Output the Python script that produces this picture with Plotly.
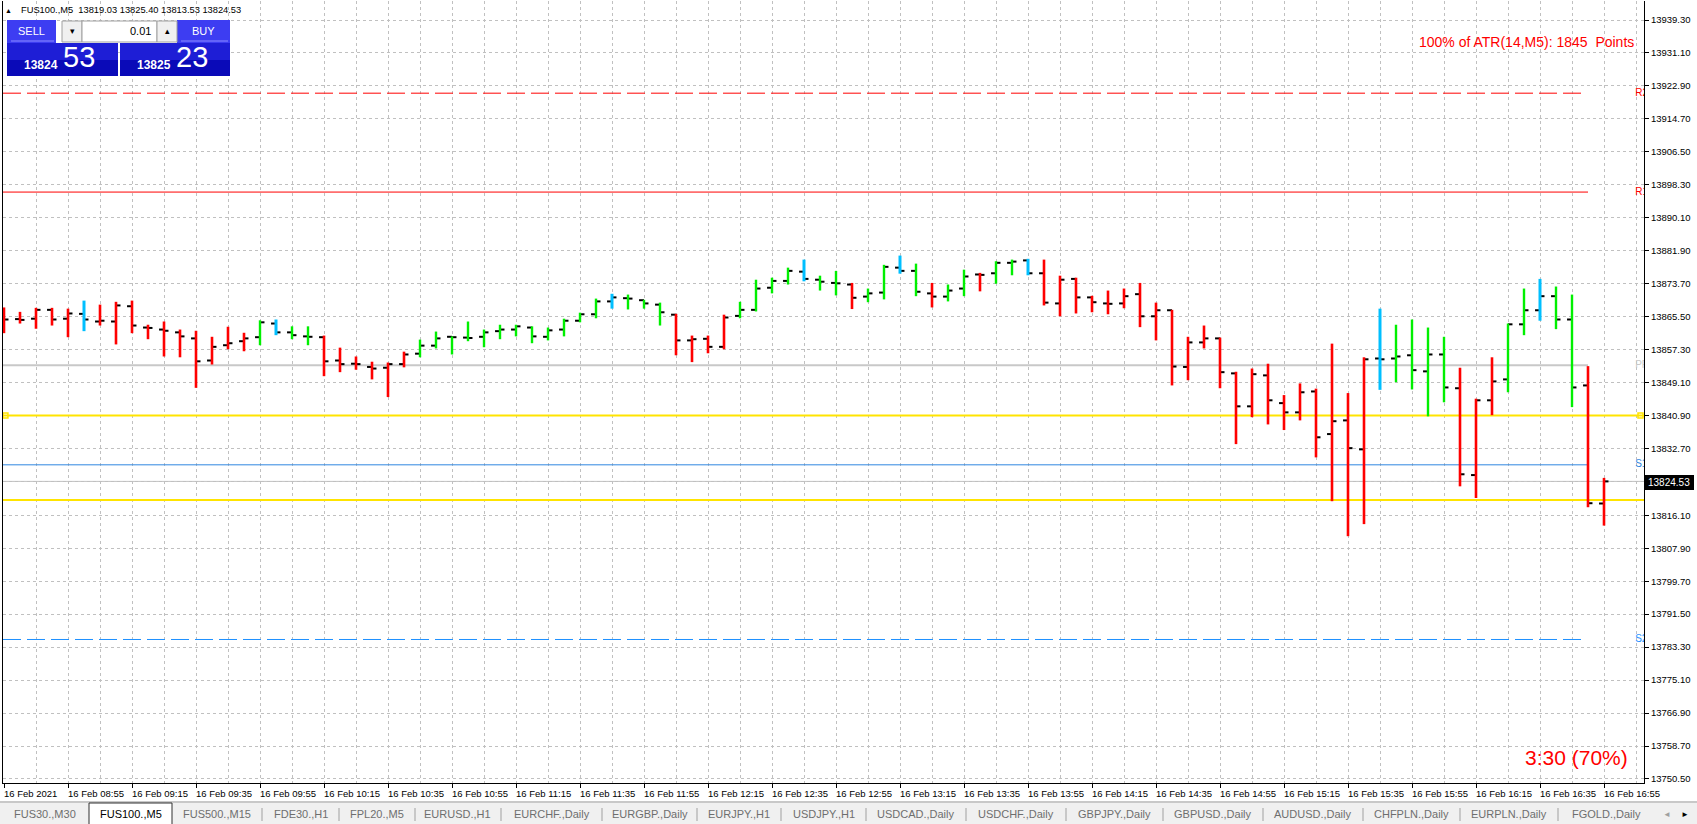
import plotly.graph_objects as go

# === Data (FUS100., M5, 16 Feb 2021 08:35 -> 16:55) ===
opens = [13866.0, 13864.9, 13865.0, 13867.2, 13865.0, 13866.2, 13864.3, 13864.3, 13868.1, 13862.8,
         13862.3, 13861.6, 13860.1, 13854.6, 13858.4, 13859.4, 13860.4, 13863.8, 13861.6, 13860.6,
         13860.4, 13854.6, 13853.8, 13853.0, 13852.8, 13853.7, 13856.3, 13858.3, 13860.5, 13860.3,
         13860.5, 13861.9, 13862.3, 13862.8, 13860.5, 13862.3, 13864.5, 13866.1, 13869.3, 13870.1,
         13869.6, 13868.5, 13866.0, 13859.6, 13860.0, 13858.0, 13865.7, 13867.2, 13872.7, 13874.4,
         13876.7, 13874.7, 13873.9, 13873.5, 13870.5, 13871.5, 13877.7, 13876.9, 13871.3, 13870.5,
         13872.5, 13876.0, 13876.3, 13878.9, 13879.5, 13876.3, 13868.8, 13874.9, 13870.3, 13868.8,
         13868.8, 13871.1, 13865.6, 13867.1, 13853.0, 13859.1, 13860.1, 13851.4, 13843.2, 13850.9,
         13844.0, 13841.7, 13846.9, 13836.3, 13839.7, 13832.5, 13855.1, 13855.1, 13855.9, 13851.9,
         13856.1, 13847.7, 13826.1, 13844.7, 13849.9, 13863.6, 13867.1, 13870.6, 13864.8, 13848.4,
         13819.03]
highs = [13867.8, 13866.7, 13867.7, 13867.7, 13867.5, 13869.5, 13868.5, 13869.2, 13869.5, 13863.5,
         13864.3, 13862.3, 13862.0, 13860.5, 13863.0, 13861.5, 13864.6, 13864.8, 13863.1, 13863.1,
         13860.8, 13857.8, 13855.6, 13854.3, 13854.1, 13856.8, 13859.8, 13861.8, 13860.6, 13864.3,
         13862.3, 13863.5, 13863.5, 13863.1, 13862.8, 13865.0, 13866.5, 13870.0, 13871.2, 13871.0,
         13869.7, 13869.0, 13866.2, 13860.8, 13860.8, 13866.0, 13869.2, 13874.7, 13875.2, 13877.7,
         13879.7, 13875.7, 13876.9, 13873.9, 13872.5, 13878.4, 13880.7, 13878.7, 13873.9, 13873.5,
         13877.2, 13876.4, 13879.3, 13879.7, 13879.9, 13879.7, 13875.7, 13875.2, 13870.7, 13872.0,
         13872.5, 13873.9, 13869.0, 13867.2, 13860.5, 13863.3, 13860.3, 13851.8, 13852.6, 13853.8,
         13846.0, 13848.9, 13847.6, 13858.8, 13846.5, 13855.4, 13867.5, 13863.5, 13864.8, 13862.8,
         13860.5, 13852.8, 13845.1, 13855.4, 13863.8, 13872.5, 13874.9, 13873.0, 13871.0, 13853.2,
         13825.40]
lows = [13861.4, 13863.8, 13862.5, 13863.3, 13860.4, 13861.9, 13863.3, 13858.6, 13861.4, 13859.9,
        13855.6, 13855.4, 13847.8, 13853.6, 13857.4, 13856.9, 13858.4, 13860.9, 13859.9, 13858.4,
        13850.7, 13851.7, 13852.3, 13849.9, 13845.5, 13852.9, 13855.4, 13857.6, 13856.1, 13859.4,
        13857.9, 13859.9, 13860.6, 13858.9, 13859.6, 13860.6, 13864.1, 13865.1, 13867.5, 13867.3,
        13867.5, 13863.3, 13855.9, 13854.2, 13856.4, 13857.4, 13865.1, 13866.8, 13871.3, 13873.5,
        13874.3, 13872.0, 13870.8, 13867.4, 13869.1, 13869.8, 13876.2, 13870.6, 13867.8, 13869.3,
        13870.6, 13871.8, 13873.7, 13875.8, 13875.8, 13868.3, 13865.6, 13866.3, 13866.6, 13866.1,
        13867.6, 13862.9, 13859.6, 13848.4, 13849.7, 13857.6, 13847.7, 13833.8, 13840.5, 13838.7,
        13837.3, 13839.7, 13830.5, 13819.6, 13810.9, 13813.9, 13847.3, 13849.2, 13847.4, 13840.7,
        13844.2, 13823.3, 13820.4, 13841.0, 13846.7, 13860.9, 13864.5, 13862.4, 13843.0, 13818.1,
        13813.53]
closes = [13864.8, 13864.7, 13867.2, 13864.8, 13866.3, 13864.8, 13864.5, 13868.3, 13863.3, 13862.7,
          13862.0, 13860.6, 13854.4, 13858.0, 13858.9, 13860.1, 13864.1, 13861.6, 13860.9, 13860.5,
          13854.4, 13853.7, 13853.7, 13852.6, 13853.7, 13856.1, 13858.3, 13860.1, 13860.4, 13860.2,
          13861.6, 13862.3, 13863.1, 13860.6, 13862.1, 13864.5, 13866.1, 13869.3, 13870.3, 13870.0,
          13868.8, 13866.6, 13859.6, 13859.9, 13858.0, 13865.3, 13867.2, 13872.5, 13874.4, 13876.9,
          13874.9, 13874.2, 13873.8, 13870.2, 13871.3, 13877.9, 13876.9, 13871.7, 13870.5, 13872.0,
          13875.5, 13875.9, 13878.9, 13879.2, 13876.3, 13869.0, 13874.7, 13870.3, 13869.1, 13868.7,
          13870.6, 13865.6, 13867.1, 13853.1, 13859.1, 13860.1, 13851.7, 13843.2, 13851.2, 13844.7,
          13841.7, 13846.7, 13835.5, 13839.5, 13832.8, 13854.9, 13854.9, 13855.6, 13852.2, 13856.1,
          13847.9, 13826.3, 13844.7, 13849.4, 13863.6, 13867.1, 13870.6, 13864.8, 13847.9, 13819.1,
          13824.53]
# bar colour from the trend indicator: R red, G green, B blue
trend = list("RRRRRB" + "RRRRRRRRRR" + "G" + "B" + "GG" + "RRRRRR" + "GGGGGGGGGGGG" + "B" + "GGG"
             + "RRRR" + "GGGG" + "B" + "GG" + "R" + "GG" + "B" + "G" + "R" + "GG" + "R" + "GG" + "B"
             + "RRRRRRRRRRRRRRRRRRRRR" + "B" + "GGGG" + "RRR" + "GG" + "B" + "GG" + "RR")

x_labels = ["16 Feb 2021", "16 Feb 08:55", "16 Feb 09:15", "16 Feb 09:35", "16 Feb 09:55",
            "16 Feb 10:15", "16 Feb 10:35", "16 Feb 10:55", "16 Feb 11:15", "16 Feb 11:35",
            "16 Feb 11:55", "16 Feb 12:15", "16 Feb 12:35", "16 Feb 12:55", "16 Feb 13:15",
            "16 Feb 13:35", "16 Feb 13:55", "16 Feb 14:15", "16 Feb 14:35", "16 Feb 14:55",
            "16 Feb 15:15", "16 Feb 15:35", "16 Feb 15:55", "16 Feb 16:15", "16 Feb 16:35",
            "16 Feb 16:55"]
y_labels = ["13939.30", "13931.10", "13922.90", "13914.70", "13906.50", "13898.30", "13890.10",
            "13881.90", "13873.70", "13865.50", "13857.30", "13849.10", "13840.90", "13832.70",
            "13824.50", "13816.10", "13807.90", "13799.70", "13791.50", "13783.30", "13775.10",
            "13766.90", "13758.70", "13750.50"]

# pivot levels
level_names = ["R2", "R1", "PP", "S1", "S2"]
level_prices = [13921.1, 13896.5, 13853.4, 13828.65, 13785.2]
zone_prices = [13840.9, 13819.9]   # yellow lines
symbol = "FUS100.,M5"
atr_text = "100% of ATR(14,M5): 1845  Points"
timer_text = "3:30 (70%)"
tabs = ["FUS30.,M30", "FUS100.,M5", "FUS500.,M15", "FDE30.,H1", "FPL20.,M5", "EURUSD.,H1",
        "EURCHF.,Daily", "EURGBP.,Daily", "EURJPY.,H1", "USDJPY.,H1", "USDCAD.,Daily",
        "USDCHF.,Daily", "GBPJPY.,Daily", "GBPUSD.,Daily", "AUDUSD.,Daily", "CHFPLN.,Daily",
        "EURPLN.,Daily", "FGOLD.,Daily"]
tab_edges = [0, 89, 172, 262, 339, 415, 501, 602, 697, 781, 866, 966, 1066, 1163, 1263, 1363,
             1460, 1558, 1655]

# === Geometry ===
W, H = 1697, 824
PL, PR, PT, PB = 3, 1644, 1, 783
FONT = "Liberation Sans"
n = len(closes)
last = closes[-1]
x_min, x_max = -0.0625, 102.5
y_min, y_max = 13749.5, 13944.03


def fx(x):
    return (x - PL) / (PR - PL)


def fy(y):
    return (PB - y) / (PB - PT)


shapes = []
annotations = []


def box(x0, y0, x1, y1, fill, line=None, layer="above"):
    shapes.append(dict(type="rect", xref="paper", yref="paper", x0=fx(x0), x1=fx(x1),
                       y0=fy(y1), y1=fy(y0), fillcolor=fill, layer=layer,
                       line=dict(width=0) if line is None else dict(color=line, width=1)))


def seg(x0, y0, x1, y1, color, width=1):
    shapes.append(dict(type="line", xref="paper", yref="paper", x0=fx(x0), x1=fx(x1),
                       y0=fy(y0), y1=fy(y1), line=dict(color=color, width=width), layer="above"))


def text(x, y, s, size, color, anchor="center", bold=False):
    annotations.append(dict(xref="paper", yref="paper", x=fx(x), y=fy(y), text=f"<b>{s}</b>" if bold else s,
                            showarrow=False, xanchor=anchor, yanchor="middle",
                            font=dict(size=size, color=color, family=FONT)))


fig = go.Figure()

# === Pivot / zone lines ===
level_colors = ["#FF0000", "#FF0000", "#C8C8C8", "#2F86E0", "#1E90FF"]
level_dash = ["18px,6px", "solid", "solid", "solid", "18px,6px"]
level_width = [1, 1, 2, 1, 1]
level_end = [98.6, 99.0, 99.0, 99.0, 98.6]
for p, c, d, w, e in zip(level_prices, level_colors, level_dash, level_width, level_end):
    shapes.append(dict(type="line", xref="x", yref="y", x0=x_min, x1=e, y0=p, y1=p,
                       line=dict(color=c, width=w, dash=d), layer="between"))
fig.add_trace(go.Scatter(x=[101.95] * len(level_names), y=level_prices, mode="text",
                         text=level_names, textposition="middle right", cliponaxis=True,
                         textfont=dict(size=10, color=level_colors, family=FONT),
                         showlegend=False, hoverinfo="skip"))

for p in zone_prices:
    shapes.append(dict(type="line", xref="x", yref="y", x0=x_min, x1=x_max, y0=p, y1=p,
                       line=dict(color="#FFE400", width=2), layer="between"))
fig.add_trace(go.Scatter(x=[0.09, 102.28], y=[zone_prices[0]] * 2, mode="markers",
                         marker=dict(symbol="square-open", size=5, color="#FFE400",
                                     line=dict(width=1.5, color="#FFE400")),
                         cliponaxis=False, showlegend=False, hoverinfo="skip"))

# current price line
shapes.append(dict(type="line", xref="x", yref="y", x0=x_min, x1=x_max, y0=last, y1=last,
                   line=dict(color="#C0C0C0", width=1), layer="between"))

# === OHLC bars ===
tx, ty = [], []
for i in range(n):
    tx += [i - 0.31, i, None, i, i + 0.28, None]
    ty += [opens[i], opens[i], None, closes[i], closes[i], None]
fig.add_trace(go.Scatter(x=tx, y=ty, mode="lines", line=dict(color="black", width=2),
                         showlegend=False, hoverinfo="skip"))

bar_colors = {"R": "#FF0000", "G": "#00F000", "B": "#00BFFF"}
bar_width = {"R": 2.6, "G": 2.4, "B": 3}
for k, col in bar_colors.items():
    bx, by = [], []
    for i in range(n):
        if trend[i] == k:
            bx += [i, i, None]
            by += [lows[i], highs[i], None]
    fig.add_trace(go.Scatter(x=bx, y=by, mode="lines", line=dict(color=col, width=bar_width[k]),
                             showlegend=False, hoverinfo="skip"))

# === Axis labels (x labels left aligned on their tick) ===
label_bars = list(range(0, n, 4))
for b, s in zip(label_bars, x_labels):
    annotations.append(dict(xref="x", yref="paper", x=b, y=0, yshift=-3, text=s, showarrow=False,
                            xanchor="left", yanchor="top", xshift=-2,
                            font=dict(size=9.5, color="black", family=FONT)))

y_vals = [float(v) for v in y_labels]
y_text = ["" if abs(v - last) < 2 else s for v, s in zip(y_vals, y_labels)]

# current price box on the axis
box(1645, 475, 1694, 490, "black")
text(1669.5, 482.5, f"{last:.2f}", 10, "white")

# === Chart texts ===
text(1636, 42, atr_text, 14, "#FF0000", anchor="right")
text(1630, 757, timer_text, 21, "#FF0000", anchor="right")
text(8, 10, "▲", 7, "black")
text(19, 10, f"{symbol}  {opens[-1]:.2f} {highs[-1]:.2f} {lows[-1]:.2f} {closes[-1]:.2f}", 9.3,
     "black", anchor="left")

# === One-click trading panel ===
sell_txt, buy_txt = "13824", "13825"
sell_pips, buy_pips = "53", "23"
box(7, 20, 56, 43, "#3D3DF2")
box(177, 20, 230, 43, "#3D3DF2")
seg(11, 41, 54, 41, "#8C8CFF")
seg(181, 41, 228, 41, "#8C8CFF")
box(62, 21, 82, 42, "#F0F0F0", line="#A0A0A0")
box(82, 21, 157, 42, "white", line="#A0A0A0")
box(157, 21, 177, 42, "#F0F0F0", line="#A0A0A0")
box(7, 43, 118, 60, "#1E1ED6")
box(7, 60, 118, 76, "#0A0AB8")
box(120, 43, 230, 60, "#1E1ED6")
box(120, 60, 230, 76, "#0A0AB8")
text(31, 31, "SELL", 11, "white")
text(203, 31, "BUY", 11, "white")
text(72, 31, "▾", 9, "black")
text(167, 31, "▴", 9, "black")
text(153, 31, "0.01", 11, "black", anchor="right")
text(41, 65, sell_txt, 12, "white", bold=True)
text(79, 57, sell_pips, 29, "white")
text(154, 65, buy_txt, 12, "white", bold=True)
text(192, 57, buy_pips, 29, "white")

# === Tab bar ===
box(0, 801, W, H, "#F0F0F0")
seg(0, 802, W, 802, "#A0A0A0")
for j, name in enumerate(tabs):
    a, b = tab_edges[j], tab_edges[j + 1]
    if name == symbol:
        box(a, 803, b, H + 1, "white", line="#303030")
        text((a + b) / 2, 814, name, 11, "black")
    else:
        text((a + b) / 2, 814, name, 11, "#6E6E6E")
        if j + 1 < len(tabs) and tabs[j + 1] != symbol:
            seg(b, 808, b, 821, "#A0A0A0")
text(1667, 814, "◄", 8, "#A0A0A0")
text(1685, 814, "►", 8, "black")

fig.update_layout(
    width=W, height=H,
    margin=dict(l=PL, r=W - PR, t=PT, b=H - PB, autoexpand=False),
    plot_bgcolor="white", paper_bgcolor="white",
    showlegend=False, hovermode=False,
    shapes=shapes, annotations=annotations,
    font=dict(family=FONT, color="black"),
    xaxis=dict(range=[x_min, x_max], tickmode="array", tickvals=label_bars, showticklabels=False,
               ticks="outside", ticklen=4, tickcolor="black", showgrid=True, gridcolor="#C0C0C0",
               griddash="3px,3px", gridwidth=1, zeroline=False, showline=True, linecolor="black",
               linewidth=1, mirror=False,
               minor=dict(tickmode="linear", tick0=0, dtick=2, showgrid=True, gridcolor="#C0C0C0",
                          griddash="3px,3px", gridwidth=1, ticks="")),
    yaxis=dict(range=[y_min, y_max], side="right", tickmode="array", tickvals=y_vals,
               ticktext=y_text, ticks="outside", ticklen=4, tickcolor="black",
               tickfont=dict(size=9.5, family=FONT, color="black"),
               showgrid=True, gridcolor="#C0C0C0", griddash="3px,3px", gridwidth=1,
               zeroline=False, showline=True, linecolor="black", linewidth=1, mirror=True),
)

# page margin off so the figure sits at the window's top-left corner
fig.write_html("out.html", config={"displayModeBar": False},
               post_script="document.body.style.margin='0';document.body.style.overflow='hidden';")
